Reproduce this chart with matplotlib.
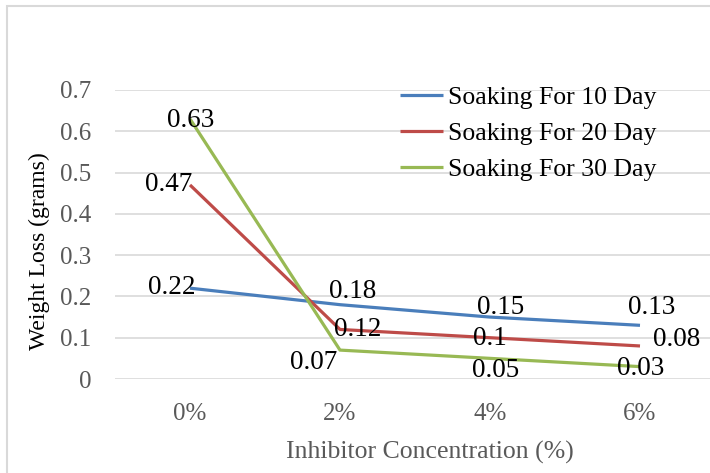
import matplotlib
matplotlib.use("Agg")
import matplotlib.pyplot as plt
from matplotlib.patches import Rectangle

# data
concentrations = ["0%", "2%", "4%", "6%"]
day10 = [0.22, 0.18, 0.15, 0.13]
day20 = [0.47, 0.12, 0.10, 0.08]
day30 = [0.63, 0.07, 0.05, 0.03]
labels10 = ["0.22", "0.18", "0.15", "0.13"]
labels20 = ["0.47", "0.12", "0.1", "0.08"]
labels30 = ["0.63", "0.07", "0.05", "0.03"]
series_names = ["Soaking For 10 Day", "Soaking For 20 Day", "Soaking For 30 Day"]

# label offsets in pixels (moved by hand in the original)
offs10 = [(-18, 1), (13, 13), (11, 10), (12, 18)]
offs20 = [(-21, 0), (18, 0), (0, -1), (37, 6)]
offs30 = [(1, -2), (-26, -12), (6, -12), (1, -2)]

colors = ["#4A7EBB", "#BE4B48", "#98B954"]

plt.rcParams["font.family"] = ["Liberation Serif", "DejaVu Serif"]

fig = plt.figure(figsize=(7.1, 4.73), dpi=100)
fig.patches.append(Rectangle((7 / 710, -0.1), 1.1, 1.1 - 6 / 473,
                             transform=fig.transFigure, fill=False,
                             edgecolor="#D9D9D9", linewidth=1.5))

ax = fig.add_axes([115 / 710, 94 / 473, 600 / 710, 289 / 473])
x = range(len(concentrations))

for vals, labs, offs, c, name in zip([day10, day20, day30],
                                     [labels10, labels20, labels30],
                                     [offs10, offs20, offs30],
                                     colors, series_names):
    ax.plot(x, vals, color=c, linewidth=2.3, label=name,
            solid_capstyle="butt", zorder=3)
    for xi, v, t, o in zip(x, vals, labs, offs):
        ax.annotate(t, (xi, v), xytext=o, textcoords="offset pixels",
                    ha="center", va="center", fontsize=19.5, color="black",
                    zorder=4)

ax.set_xlim(-0.5, 3.5)
ax.set_ylim(0, 0.7)
ax.set_yticks([0, 0.1, 0.2, 0.3, 0.4, 0.5, 0.6, 0.7])
ax.set_yticklabels(["0", "0.1", "0.2", "0.3", "0.4", "0.5", "0.6", "0.7"])
ax.set_xticks(list(x))
ax.set_xticklabels(concentrations)
ax.tick_params(length=0, labelsize=18, labelcolor="#595959")
ax.tick_params(axis="y", pad=17)
ax.tick_params(axis="x", pad=17)
ax.grid(axis="y", color="#D9D9D9", linewidth=1.2)
ax.set_axisbelow(True)
for s in ax.spines.values():
    s.set_visible(False)

ax.set_xlabel("Inhibitor Concentration (%)", fontsize=18.5, color="#595959")
ax.xaxis.set_label_coords(0.525, -0.213)
ax.set_ylabel("Weight Loss (grams)", fontsize=17, color="black")
ax.yaxis.set_label_coords(-0.109, 0.443)

fig.legend(loc="upper left", bbox_to_anchor=(390 / 710, 1 - 76 / 473),
           frameon=False, fontsize=18.5, handlelength=1.65, handletextpad=0.2,
           labelspacing=0.5, borderaxespad=0)

fig.savefig("out.png", dpi=100)
